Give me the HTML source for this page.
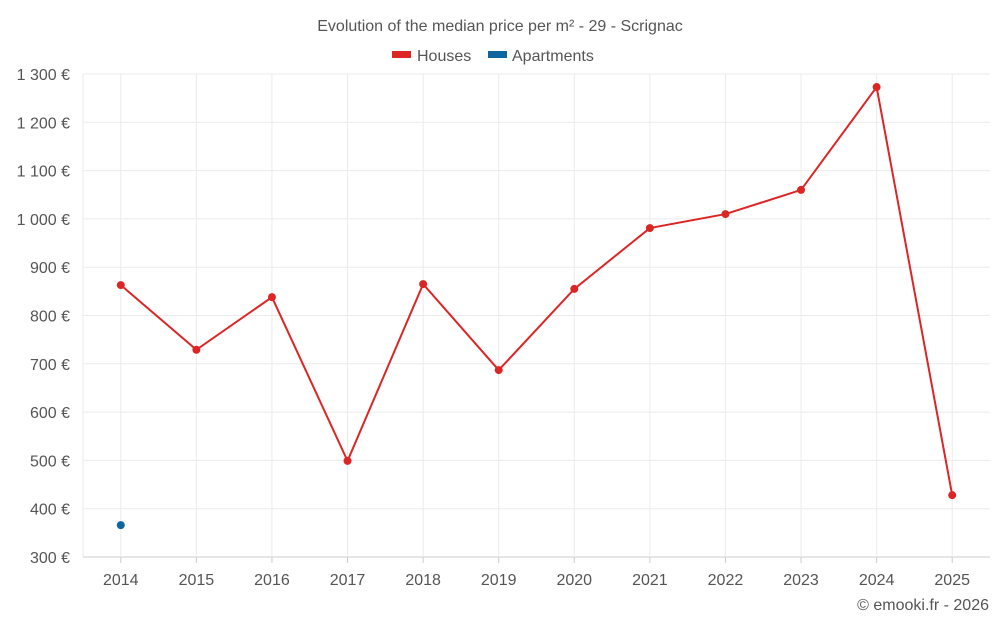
<!DOCTYPE html>
<html><head><meta charset="utf-8">
<style>
html,body{margin:0;padding:0;background:#fff;}
body{width:1000px;height:625px;overflow:hidden;font-family:"Liberation Sans",sans-serif;}
</style></head>
<body>
<svg id="chart" width="1000" height="625" xmlns="http://www.w3.org/2000/svg" font-family="Liberation Sans, sans-serif">
<text x="500" y="31" text-anchor="middle" font-size="16" fill="#555">Evolution of the median price per m² - 29 - Scrignac</text>
<g><rect x="392" y="51" width="19" height="7" fill="#dc2626"/><text x="417" y="61" font-size="16" fill="#555">Houses</text></g>
<g><rect x="488" y="51" width="19" height="7" fill="#0f65a0"/><text x="512" y="61" font-size="16" fill="#555">Apartments</text></g>
<g id="grid"></g><g id="axes"></g><g id="marks"></g>
<text x="989" y="610" text-anchor="end" font-size="16" fill="#555">© emooki.fr - 2026</text>
</svg>
<script>
const categories=["2014","2015","2016","2017","2018","2019","2020","2021","2022","2023","2024","2025"];
const houses=[863,729,838,499,865,687,855,981,1010,1060,1273,428];
const apartments=[366,null,null,null,null,null,null,null,null,null,null,null];
const yTicks=[300,400,500,600,700,800,900,1000,1100,1200,1300];
const ns="http://www.w3.org/2000/svg";
const L=83,R=990,T=74,B=557,yMin=300,yMax=1300;
const bw=(R-L)/categories.length;
const x=i=>L+bw*(i+0.5);
const y=v=>B-(v-yMin)/(yMax-yMin)*(B-T);
function mk(tag,attrs,parent){const e=document.createElementNS(ns,tag);for(const k in attrs)e.setAttribute(k,attrs[k]);document.getElementById(parent).appendChild(e);return e;}
const fmt=v=>String(v).replace(/\B(?=(\d{3})+(?!\d))/g," ")+" €";
yTicks.forEach(v=>{
 const l=mk("line",{x1:L,x2:R,y1:y(v),y2:y(v),stroke:v===yMin?"#ccc":"#ebebeb"},"grid");
 
 
 const t=mk("text",{x:70,y:y(v)+6,"text-anchor":"end","font-size":"16",fill:"#555"},"axes");
 t.textContent=fmt(v);
 
 
});
mk("line",{x1:L,x2:L,y1:T,y2:B,stroke:"#ebebeb"},"grid");
categories.forEach((c,i)=>{
 const g=mk("line",{x1:x(i),x2:x(i),y1:T,y2:B,stroke:"#ebebeb"},"grid");
 
 
 const tk=mk("line",{x1:x(i),x2:x(i),y1:B,y2:B+6,stroke:"#ccc"},"axes");
 
 
 const t=mk("text",{x:x(i),y:585,"text-anchor":"middle","font-size":"16",fill:"#555"},"axes");
 t.textContent=c;
 
 
});
const pts=houses.map((v,i)=>v==null?null:x(i)+","+y(v)).filter(p=>p).join(" ");
const line=mk("polyline",{points:pts,fill:"none",stroke:"#dc2626","stroke-width":2},"marks");


houses.forEach((v,i)=>{if(v==null)return;
 const c=mk("circle",{cx:x(i),cy:y(v),r:4,fill:"#dc2626"},"marks");
 
 
});
apartments.forEach((v,i)=>{if(v==null)return;
 const c=mk("circle",{cx:x(i),cy:y(v),r:4,fill:"#0f65a0"},"marks");
 
 
});
</script>
</body></html>
